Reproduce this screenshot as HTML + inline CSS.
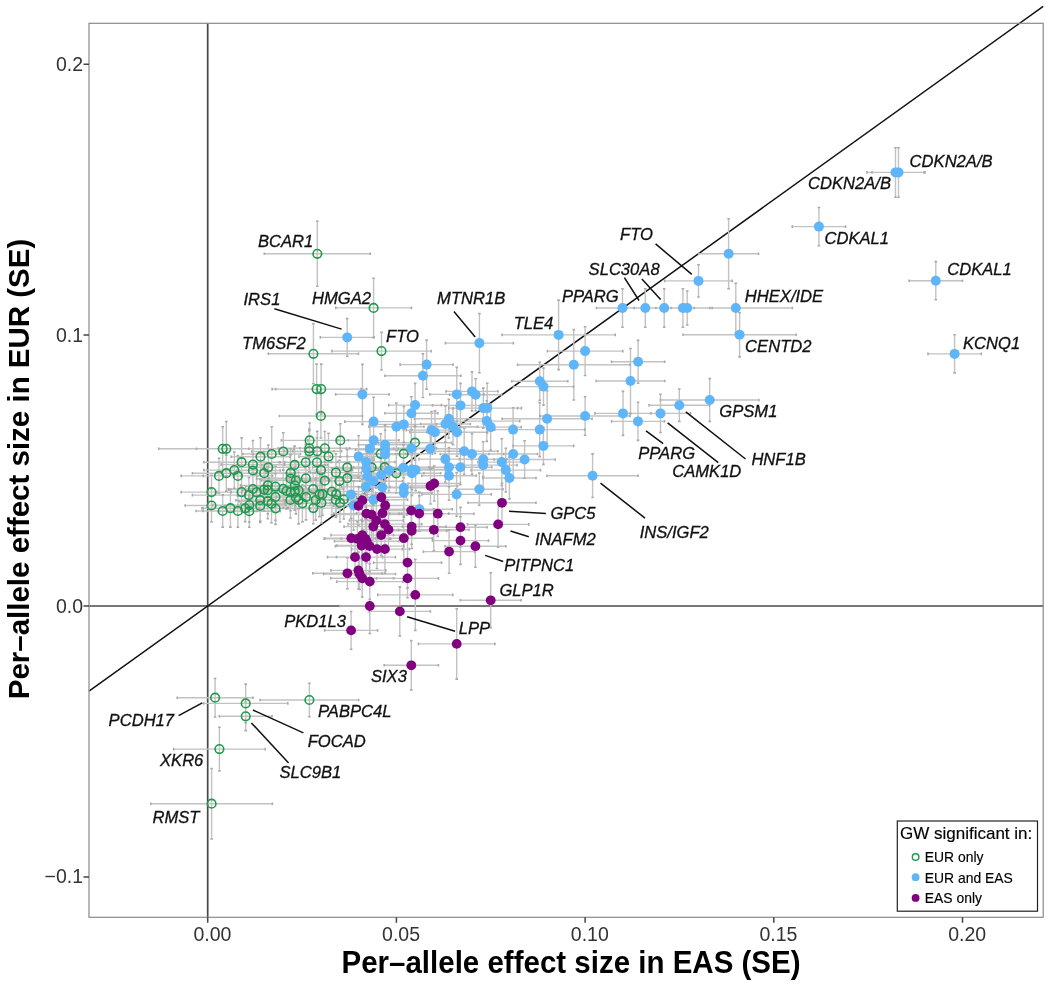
<!DOCTYPE html>
<html><head><meta charset="utf-8"><title>Per-allele effect size EUR vs EAS</title>
<style>html,body{margin:0;padding:0;background:#fff;width:1050px;height:984px;overflow:hidden}svg{display:block}</style>
</head><body>
<svg width="1050" height="984" viewBox="0 0 1050 984">
<rect width="1050" height="984" fill="#fff"/>
<defs><clipPath id="pc"><rect x="89.0" y="23.3" width="954.2" height="894.0"/></clipPath></defs>
<g stroke="#484848" stroke-width="1.7">
<line x1="207.7" y1="23.3" x2="207.7" y2="917.3"/>
<line x1="89.0" y1="606.0" x2="1043.2" y2="606.0"/>
</g>
<line x1="89.0" y1="691.2" x2="1043.2" y2="6.3" stroke="#111" stroke-width="1.5"/>
<path d="M264.3 253.8H370.3M317.3 221.3V286.3M335.8 307.9H411.4M373.6 278.2V337.6M268.3 353.8H358.5M313.4 323.8V383.8M331.9 351.1H431.1M381.5 332.2V370.0M272.1 389.1H361.1M316.6 364.1V414.1M275.7 389.1H366.7M321.2 364.1V414.1M279.4 416.0H362.4M320.9 394.0V438.0M281.4 440.4H337.8M309.6 423.0V457.8M307.8 440.4H372.8M340.3 423.7V457.1M278.3 448.3H340.3M309.3 429.0V467.6M284.5 451.3H334.1M309.3 430.7V471.9M292.7 451.3H341.7M317.2 431.4V471.2M299.9 448.3H349.7M324.8 431.5V465.1M299.0 456.6H358.0M328.5 433.2V480.0M280.1 462.3H331.3M305.7 444.3V480.3M284.7 462.3H349.1M316.9 437.8V486.8M289.5 470.1H352.5M321.0 450.5V489.7M269.1 478.3H342.5M305.8 461.9V494.7M289.6 480.7H360.0M324.8 462.1V499.3M310.4 472.6H361.4M335.9 453.8V491.4M312.6 467.4H381.8M347.2 449.8V485.0M315.6 478.2H378.8M347.2 456.4V500.0M310.7 481.1H368.3M339.5 460.2V502.0M261.7 491.0H311.3M286.5 473.1V508.9M260.9 492.0H320.1M290.5 473.2V510.8M264.9 491.4H324.7M294.8 472.7V510.1M265.5 490.5H331.7M298.6 472.3V508.7M267.8 500.0H329.4M298.6 476.1V523.9M274.7 503.3H330.1M302.4 484.7V521.9M276.6 497.1H335.4M306.0 474.3V519.9M282.7 489.0H343.5M313.1 472.6V505.4M288.6 494.2H356.4M322.5 473.0V515.4M291.4 494.3H347.6M319.5 472.0V516.6M284.2 500.0H347.2M315.7 479.9V520.1M285.1 502.9H357.7M321.4 482.6V523.2M288.5 508.1H338.1M313.3 492.4V523.8M295.0 491.5H368.8M331.9 468.1V514.9M307.2 494.2H365.2M336.2 472.2V516.2M305.7 500.0H365.7M335.7 482.5V517.5M315.2 502.9H364.8M340.0 483.8V522.0M316.6 499.5H371.0M343.8 480.0V519.0M355.7 453.8H405.7M380.7 433.8V473.8M353.6 467.2H415.8M384.7 443.2V491.2M336.9 467.4H406.3M371.6 443.6V491.2M368.7 473.3H423.9M396.3 453.6V493.0M375.0 453.7H432.4M403.7 429.7V477.7M378.5 442.7H451.5M415.0 425.3V460.1M196.5 448.8H248.9M222.7 426.8V470.8M158.7 448.8H293.9M226.3 421.5V476.1M181.1 475.9H256.9M219.0 458.3V493.5M192.4 473.2H260.2M226.3 455.1V491.3M203.9 470.1H264.7M234.3 452.0V488.2M203.3 475.9H272.5M237.9 455.5V496.3M203.9 462.2H279.3M241.6 437.9V486.5M221.2 464.6H284.6M252.9 440.6V488.6M225.5 470.5H280.3M252.9 454.5V486.5M231.1 456.7H289.9M260.5 437.9V475.5M242.9 454.0H300.5M271.7 426.8V481.2M251.9 451.5H314.7M283.3 432.7V470.3M231.9 467.3H304.7M268.3 445.1V489.5M233.4 473.2H294.8M264.1 451.6V494.8M261.8 464.9H327.4M294.6 446.1V483.7M265.9 472.9H315.3M290.6 448.8V497.0M256.5 478.7H324.7M290.6 454.8V502.6M261.5 480.5H330.3M295.9 461.0V500.0M181.1 492.1H241.9M211.5 475.2V509.0M185.1 505.5H237.9M211.5 489.0V522.0M216.8 492.1H266.4M241.6 475.5V508.7M192.4 495.1H305.4M248.9 477.6V512.6M228.2 489.0H277.6M252.9 473.0V505.0M231.3 492.1H281.9M256.6 472.8V511.4M228.7 489.6H299.5M264.1 468.1V511.1M240.5 485.4H295.1M267.8 466.3V504.5M242.2 490.2H293.4M267.8 466.6V513.8M245.4 486.6H305.6M275.5 466.2V507.0M257.9 488.8H308.5M283.2 469.7V507.9M196.0 511.0H249.4M222.7 494.9V527.1M201.9 508.2H258.9M230.4 489.3V527.1M203.1 511.0H272.7M237.9 494.9V527.1M203.2 508.3H287.2M245.2 495.0V521.6M212.9 505.1H285.7M249.3 488.2V522.0M218.2 511.2H280.4M249.3 495.2V527.2M235.8 500.2H284.6M260.2 479.4V521.0M225.0 505.9H295.4M260.2 489.4V522.4M239.0 501.2H296.6M267.8 483.7V518.7M240.6 503.7H302.4M271.5 484.7V522.7M248.6 497.0H302.4M275.5 473.7V520.3M240.5 508.5H310.7M275.6 492.6V524.4M256.8 500.0H324.0M290.4 482.0V518.0M267.3 497.6H324.5M295.9 481.3V513.9M267.2 485.5H322.4M294.8 467.2V503.8M177.2 697.7H253.0M215.1 678.5V717.0M203.6 703.4H287.8M245.7 684.1V722.7M219.3 716.3H272.1M245.7 702.0V730.6M260.1 700.0H358.7M309.4 683.3V716.7M173.7 749.1H265.1M219.4 727.2V771.0M150.8 803.7H272.4M211.6 768.5V839.0M866.9 172.4H924.1M895.5 147.7V197.2M872.0 172.4H925.0M898.5 147.7V197.2M792.2 226.6H845.6M818.9 207.5V245.7M909.1 280.7H962.5M935.8 261.6V299.8M928.0 353.9H981.2M954.6 334.8V372.9M698.7 253.8H758.5M728.6 218.8V288.8M664.7 280.9H732.3M698.5 264.8V297.0M596.5 308.0H648.5M622.5 288.8V327.2M619.3 308.0H671.3M645.3 288.8V327.2M634.2 308.0H694.2M664.2 288.8V327.2M655.9 308.0H709.9M682.9 288.8V327.2M662.2 308.0H712.2M687.2 291.0V325.0M679.2 308.0H792.4M735.8 283.2V332.8M683.1 334.8H796.1M739.6 312.7V356.9M611.5 361.8H664.7M638.1 340.4V383.2M596.2 381.0H664.8M630.5 348.5V413.5M660.5 400.0H758.9M709.7 378.6V421.4M649.1 405.2H709.5M679.3 389.0V421.4M630.5 413.4H690.5M660.5 394.2V432.5M595.0 413.4H651.0M623.0 391.4V435.4M611.6 421.4H664.4M638.0 402.3V440.4M540.1 416.0H630.1M585.1 396.7V435.3M547.1 475.7H638.1M592.6 453.9V497.5M445.4 343.1H513.4M479.4 313.6V372.7M502.0 334.9H615.2M558.6 300.1V369.6M547.4 351.1H622.8M585.1 326.7V375.5M517.6 364.8H630.0M573.8 329.6V400.0M511.8 381.2H567.8M539.8 362.2V400.2M513.5 386.6H573.5M543.5 368.1V405.1M400.1 364.6H453.1M426.6 340.1V389.1M384.9 375.7H460.9M422.9 353.9V397.5M429.8 394.4H483.8M456.8 367.4V421.4M446.0 391.4H498.0M472.0 371.9V410.9M449.6 394.8H501.6M475.6 378.8V410.8M432.5 405.4H488.5M460.5 383.4V427.4M448.9 408.1H517.7M483.3 388.1V428.1M453.0 408.1H521.4M487.2 383.2V433.0M414.4 418.7H483.2M448.8 399.4V438.0M420.6 424.0H470.4M445.5 406.0V442.0M428.4 426.8H477.6M453.0 409.0V444.6M426.9 432.2H487.1M457.0 408.1V456.3M453.9 421.1H519.7M486.8 400.8V441.4M460.2 427.1H521.2M490.7 403.9V450.3M490.0 429.6H536.2M513.1 407.7V451.5M494.7 429.6H584.7M539.7 402.6V456.6M502.1 418.7H592.1M547.1 390.7V446.7M513.1 445.9H573.7M543.4 427.4V464.4M430.4 451.3H498.0M464.2 428.3V474.3M440.2 454.0H503.8M472.0 433.7V474.3M488.9 454.0H537.5M513.2 430.9V477.1M494.0 459.5H555.2M524.6 440.7V478.3M419.0 459.1H471.6M445.3 435.9V482.3M414.4 467.2H483.6M449.0 447.6V486.8M421.8 475.8H476.2M449.0 451.3V500.3M429.0 467.3H491.8M460.4 449.8V484.8M459.5 459.2H506.9M483.2 441.8V476.6M449.4 465.1H517.0M483.2 441.8V488.4M477.9 462.1H525.7M501.8 438.7V485.5M471.1 470.1H540.5M505.8 448.2V492.0M482.8 478.0H536.0M509.4 457.1V498.9M455.6 489.2H503.0M479.3 473.1V505.3M422.0 494.4H491.2M456.6 472.6V516.2M344.8 421.6H402.4M373.6 397.2V446.0M388.8 405.1H441.4M415.1 383.4V426.8M384.9 413.2H437.9M411.4 396.7V429.7M368.8 426.8H424.0M396.4 403.0V450.6M371.1 424.4H436.5M403.8 406.5V442.3M406.2 430.1H456.8M431.5 411.5V448.7M409.9 432.2H460.1M435.0 410.9V453.5M348.2 440.3H399.0M373.6 420.5V460.1M346.3 448.8H393.7M370.0 424.6V473.0M358.5 444.8H411.7M385.1 424.7V464.9M355.5 449.8H414.7M385.1 425.7V473.9M357.6 454.5H412.6M385.1 430.2V478.8M330.1 456.6H387.1M358.6 435.8V477.4M337.4 462.0H395.0M366.2 445.8V478.2M338.5 468.6H393.9M366.2 451.0V486.2M345.3 476.5H389.5M367.4 453.3V499.7M341.6 486.8H390.0M365.8 466.5V507.1M349.8 475.0H412.6M381.2 454.0V496.0M362.8 470.3H415.2M389.0 449.6V491.0M344.1 481.2H402.5M373.3 458.1V504.3M358.9 487.3H405.7M382.3 466.3V508.3M386.1 448.2H436.5M411.3 429.7V466.7M398.2 448.8H462.2M430.2 428.2V469.4M374.1 467.7H432.7M403.4 444.9V490.5M378.1 469.5H445.9M412.0 449.5V489.5M385.6 470.1H445.6M415.6 449.6V490.6M383.3 473.2H440.7M412.0 451.0V495.4M375.9 487.8H431.7M403.8 467.0V508.6M375.6 492.7H432.0M403.8 468.2V517.2M320.0 494.5H382.2M351.1 470.6V518.4M339.2 499.8H407.6M373.4 481.5V518.1M324.3 505.5H382.9M353.6 481.0V530.0M386.5 509.3H452.3M419.4 492.1V526.5M335.7 394.4H389.1M362.4 364.4V424.4M320.3 337.4H374.1M347.2 318.6V356.2M336.7 500.4H387.9M362.3 479.4V521.4M333.6 505.8H383.4M358.5 486.6V525.0M356.3 497.2H406.3M381.3 474.2V520.2M351.0 505.5H419.4M385.2 480.4V530.6M356.4 513.2H408.4M382.4 489.8V536.6M333.8 513.6H399.0M366.4 495.3V531.9M336.1 514.6H407.1M371.6 488.9V540.3M349.4 520.5H403.2M376.3 494.9V546.1M344.1 526.6H402.5M373.3 505.2V548.0M348.0 524.1H421.8M384.9 499.6V548.6M362.4 529.6H414.6M388.5 508.7V550.5M350.5 535.1H411.9M381.2 515.0V555.2M324.8 538.2H377.8M351.3 518.3V558.1M324.0 538.8H390.8M357.4 521.6V556.0M331.1 535.1H393.5M362.3 514.1V556.1M341.2 538.8H389.6M365.4 518.8V558.8M334.5 541.2H398.7M366.6 519.6V562.8M336.9 545.5H386.5M361.7 519.6V571.4M335.4 546.1H403.8M369.6 520.4V571.8M351.6 549.1H402.4M377.0 529.7V568.5M360.4 549.1H409.4M384.9 525.1V573.1M327.5 557.1H382.5M355.0 538.9V575.3M336.5 557.1H395.5M366.0 531.9V582.3M312.8 573.3H382.0M347.4 557.8V588.8M331.0 570.4H385.8M358.4 552.1V588.7M323.7 574.0H395.5M359.6 558.5V589.5M330.8 578.3H393.6M362.2 559.7V596.9M336.7 581.6H402.9M369.8 563.8V599.4M339.8 606.0H399.8M369.8 578.5V633.5M369.2 611.4H430.4M399.8 586.9V635.9M386.5 510.6H435.9M411.2 487.4V533.8M389.7 513.6H448.7M419.2 495.9V531.3M401.6 513.7H474.0M437.8 491.0V536.4M377.3 526.6H446.1M411.7 508.8V544.4M376.6 530.9H446.8M411.7 513.3V548.5M398.6 529.8H469.0M433.8 508.7V550.9M375.4 538.2H432.2M403.8 516.2V560.2M373.5 562.6H441.5M407.5 537.3V587.9M376.5 578.4H438.5M407.5 559.0V597.8M377.8 594.9H452.8M415.3 559.4V630.4M423.4 551.6H474.8M449.1 529.9V573.3M403.4 486.0H457.6M430.5 468.0V504.0M408.1 483.5H460.3M434.2 466.0V501.0M433.9 527.2H487.1M460.5 507.4V547.0M432.5 540.6H488.5M460.5 516.8V564.4M468.0 502.8H536.0M502.0 483.2V522.4M467.5 524.4H528.8M498.1 501.5V547.3M444.9 546.2H505.9M475.4 525.2V567.2M460.3 600.3H521.0M490.7 572.8V627.8M324.6 630.4H377.6M351.1 611.5V649.2M418.4 643.9H494.9M456.7 608.7V679.1M384.2 665.3H438.4M411.3 640.6V689.9" fill="none" stroke="#c2c2c2" stroke-width="1.4"/>
<path d="M264.3 252.5V255.1M370.3 252.5V255.1M316.0 221.3H318.6M316.0 286.3H318.6M335.8 306.6V309.2M411.4 306.6V309.2M372.3 278.2H374.9M372.3 337.6H374.9M268.3 352.5V355.1M358.5 352.5V355.1M312.1 323.8H314.7M312.1 383.8H314.7M331.9 349.8V352.4M431.1 349.8V352.4M380.2 332.2H382.8M380.2 370.0H382.8M272.1 387.8V390.4M361.1 387.8V390.4M315.3 364.1H317.9M315.3 414.1H317.9M275.7 387.8V390.4M366.7 387.8V390.4M319.9 364.1H322.5M319.9 414.1H322.5M279.4 414.7V417.3M362.4 414.7V417.3M319.6 394.0H322.2M319.6 438.0H322.2M281.4 439.1V441.7M337.8 439.1V441.7M308.3 423.0H310.9M308.3 457.8H310.9M307.8 439.1V441.7M372.8 439.1V441.7M339.0 423.7H341.6M339.0 457.1H341.6M278.3 447.0V449.6M340.3 447.0V449.6M308.0 429.0H310.6M308.0 467.6H310.6M284.5 450.0V452.6M334.1 450.0V452.6M308.0 430.7H310.6M308.0 471.9H310.6M292.7 450.0V452.6M341.7 450.0V452.6M315.9 431.4H318.5M315.9 471.2H318.5M299.9 447.0V449.6M349.7 447.0V449.6M323.5 431.5H326.1M323.5 465.1H326.1M299.0 455.3V457.9M358.0 455.3V457.9M327.2 433.2H329.8M327.2 480.0H329.8M280.1 461.0V463.6M331.3 461.0V463.6M304.4 444.3H307.0M304.4 480.3H307.0M284.7 461.0V463.6M349.1 461.0V463.6M315.6 437.8H318.2M315.6 486.8H318.2M289.5 468.8V471.4M352.5 468.8V471.4M319.7 450.5H322.3M319.7 489.7H322.3M269.1 477.0V479.6M342.5 477.0V479.6M304.5 461.9H307.1M304.5 494.7H307.1M289.6 479.4V482.0M360.0 479.4V482.0M323.5 462.1H326.1M323.5 499.3H326.1M310.4 471.3V473.9M361.4 471.3V473.9M334.6 453.8H337.2M334.6 491.4H337.2M312.6 466.1V468.7M381.8 466.1V468.7M345.9 449.8H348.5M345.9 485.0H348.5M315.6 476.9V479.5M378.8 476.9V479.5M345.9 456.4H348.5M345.9 500.0H348.5M310.7 479.8V482.4M368.3 479.8V482.4M338.2 460.2H340.8M338.2 502.0H340.8M261.7 489.7V492.3M311.3 489.7V492.3M285.2 473.1H287.8M285.2 508.9H287.8M260.9 490.7V493.3M320.1 490.7V493.3M289.2 473.2H291.8M289.2 510.8H291.8M264.9 490.1V492.7M324.7 490.1V492.7M293.5 472.7H296.1M293.5 510.1H296.1M265.5 489.2V491.8M331.7 489.2V491.8M297.3 472.3H299.9M297.3 508.7H299.9M267.8 498.7V501.3M329.4 498.7V501.3M297.3 476.1H299.9M297.3 523.9H299.9M274.7 502.0V504.6M330.1 502.0V504.6M301.1 484.7H303.7M301.1 521.9H303.7M276.6 495.8V498.4M335.4 495.8V498.4M304.7 474.3H307.3M304.7 519.9H307.3M282.7 487.7V490.3M343.5 487.7V490.3M311.8 472.6H314.4M311.8 505.4H314.4M288.6 492.9V495.5M356.4 492.9V495.5M321.2 473.0H323.8M321.2 515.4H323.8M291.4 493.0V495.6M347.6 493.0V495.6M318.2 472.0H320.8M318.2 516.6H320.8M284.2 498.7V501.3M347.2 498.7V501.3M314.4 479.9H317.0M314.4 520.1H317.0M285.1 501.6V504.2M357.7 501.6V504.2M320.1 482.6H322.7M320.1 523.2H322.7M288.5 506.8V509.4M338.1 506.8V509.4M312.0 492.4H314.6M312.0 523.8H314.6M295.0 490.2V492.8M368.8 490.2V492.8M330.6 468.1H333.2M330.6 514.9H333.2M307.2 492.9V495.5M365.2 492.9V495.5M334.9 472.2H337.5M334.9 516.2H337.5M305.7 498.7V501.3M365.7 498.7V501.3M334.4 482.5H337.0M334.4 517.5H337.0M315.2 501.6V504.2M364.8 501.6V504.2M338.7 483.8H341.3M338.7 522.0H341.3M316.6 498.2V500.8M371.0 498.2V500.8M342.5 480.0H345.1M342.5 519.0H345.1M355.7 452.5V455.1M405.7 452.5V455.1M379.4 433.8H382.0M379.4 473.8H382.0M353.6 465.9V468.5M415.8 465.9V468.5M383.4 443.2H386.0M383.4 491.2H386.0M336.9 466.1V468.7M406.3 466.1V468.7M370.3 443.6H372.9M370.3 491.2H372.9M368.7 472.0V474.6M423.9 472.0V474.6M395.0 453.6H397.6M395.0 493.0H397.6M375.0 452.4V455.0M432.4 452.4V455.0M402.4 429.7H405.0M402.4 477.7H405.0M378.5 441.4V444.0M451.5 441.4V444.0M413.7 425.3H416.3M413.7 460.1H416.3M196.5 447.5V450.1M248.9 447.5V450.1M221.4 426.8H224.0M221.4 470.8H224.0M158.7 447.5V450.1M293.9 447.5V450.1M225.0 421.5H227.6M225.0 476.1H227.6M181.1 474.6V477.2M256.9 474.6V477.2M217.7 458.3H220.3M217.7 493.5H220.3M192.4 471.9V474.5M260.2 471.9V474.5M225.0 455.1H227.6M225.0 491.3H227.6M203.9 468.8V471.4M264.7 468.8V471.4M233.0 452.0H235.6M233.0 488.2H235.6M203.3 474.6V477.2M272.5 474.6V477.2M236.6 455.5H239.2M236.6 496.3H239.2M203.9 460.9V463.5M279.3 460.9V463.5M240.3 437.9H242.9M240.3 486.5H242.9M221.2 463.3V465.9M284.6 463.3V465.9M251.6 440.6H254.2M251.6 488.6H254.2M225.5 469.2V471.8M280.3 469.2V471.8M251.6 454.5H254.2M251.6 486.5H254.2M231.1 455.4V458.0M289.9 455.4V458.0M259.2 437.9H261.8M259.2 475.5H261.8M242.9 452.7V455.3M300.5 452.7V455.3M270.4 426.8H273.0M270.4 481.2H273.0M251.9 450.2V452.8M314.7 450.2V452.8M282.0 432.7H284.6M282.0 470.3H284.6M231.9 466.0V468.6M304.7 466.0V468.6M267.0 445.1H269.6M267.0 489.5H269.6M233.4 471.9V474.5M294.8 471.9V474.5M262.8 451.6H265.4M262.8 494.8H265.4M261.8 463.6V466.2M327.4 463.6V466.2M293.3 446.1H295.9M293.3 483.7H295.9M265.9 471.6V474.2M315.3 471.6V474.2M289.3 448.8H291.9M289.3 497.0H291.9M256.5 477.4V480.0M324.7 477.4V480.0M289.3 454.8H291.9M289.3 502.6H291.9M261.5 479.2V481.8M330.3 479.2V481.8M294.6 461.0H297.2M294.6 500.0H297.2M181.1 490.8V493.4M241.9 490.8V493.4M210.2 475.2H212.8M210.2 509.0H212.8M185.1 504.2V506.8M237.9 504.2V506.8M210.2 489.0H212.8M210.2 522.0H212.8M216.8 490.8V493.4M266.4 490.8V493.4M240.3 475.5H242.9M240.3 508.7H242.9M192.4 493.8V496.4M305.4 493.8V496.4M247.6 477.6H250.2M247.6 512.6H250.2M228.2 487.7V490.3M277.6 487.7V490.3M251.6 473.0H254.2M251.6 505.0H254.2M231.3 490.8V493.4M281.9 490.8V493.4M255.3 472.8H257.9M255.3 511.4H257.9M228.7 488.3V490.9M299.5 488.3V490.9M262.8 468.1H265.4M262.8 511.1H265.4M240.5 484.1V486.7M295.1 484.1V486.7M266.5 466.3H269.1M266.5 504.5H269.1M242.2 488.9V491.5M293.4 488.9V491.5M266.5 466.6H269.1M266.5 513.8H269.1M245.4 485.3V487.9M305.6 485.3V487.9M274.2 466.2H276.8M274.2 507.0H276.8M257.9 487.5V490.1M308.5 487.5V490.1M281.9 469.7H284.5M281.9 507.9H284.5M196.0 509.7V512.3M249.4 509.7V512.3M221.4 494.9H224.0M221.4 527.1H224.0M201.9 506.9V509.5M258.9 506.9V509.5M229.1 489.3H231.7M229.1 527.1H231.7M203.1 509.7V512.3M272.7 509.7V512.3M236.6 494.9H239.2M236.6 527.1H239.2M203.2 507.0V509.6M287.2 507.0V509.6M243.9 495.0H246.5M243.9 521.6H246.5M212.9 503.8V506.4M285.7 503.8V506.4M248.0 488.2H250.6M248.0 522.0H250.6M218.2 509.9V512.5M280.4 509.9V512.5M248.0 495.2H250.6M248.0 527.2H250.6M235.8 498.9V501.5M284.6 498.9V501.5M258.9 479.4H261.5M258.9 521.0H261.5M225.0 504.6V507.2M295.4 504.6V507.2M258.9 489.4H261.5M258.9 522.4H261.5M239.0 499.9V502.5M296.6 499.9V502.5M266.5 483.7H269.1M266.5 518.7H269.1M240.6 502.4V505.0M302.4 502.4V505.0M270.2 484.7H272.8M270.2 522.7H272.8M248.6 495.7V498.3M302.4 495.7V498.3M274.2 473.7H276.8M274.2 520.3H276.8M240.5 507.2V509.8M310.7 507.2V509.8M274.3 492.6H276.9M274.3 524.4H276.9M256.8 498.7V501.3M324.0 498.7V501.3M289.1 482.0H291.7M289.1 518.0H291.7M267.3 496.3V498.9M324.5 496.3V498.9M294.6 481.3H297.2M294.6 513.9H297.2M267.2 484.2V486.8M322.4 484.2V486.8M293.5 467.2H296.1M293.5 503.8H296.1M177.2 696.4V699.0M253.0 696.4V699.0M213.8 678.5H216.4M213.8 717.0H216.4M203.6 702.1V704.7M287.8 702.1V704.7M244.4 684.1H247.0M244.4 722.7H247.0M219.3 715.0V717.6M272.1 715.0V717.6M244.4 702.0H247.0M244.4 730.6H247.0M260.1 698.7V701.3M358.7 698.7V701.3M308.1 683.3H310.7M308.1 716.7H310.7M173.7 747.8V750.4M265.1 747.8V750.4M218.1 727.2H220.7M218.1 771.0H220.7M150.8 802.4V805.0M272.4 802.4V805.0M210.3 768.5H212.9M210.3 839.0H212.9M866.9 171.1V173.7M924.1 171.1V173.7M894.2 147.7H896.8M894.2 197.2H896.8M872.0 171.1V173.7M925.0 171.1V173.7M897.2 147.7H899.8M897.2 197.2H899.8M792.2 225.3V227.9M845.6 225.3V227.9M817.6 207.5H820.2M817.6 245.7H820.2M909.1 279.4V282.0M962.5 279.4V282.0M934.5 261.6H937.1M934.5 299.8H937.1M928.0 352.6V355.2M981.2 352.6V355.2M953.3 334.8H955.9M953.3 372.9H955.9M698.7 252.5V255.1M758.5 252.5V255.1M727.3 218.8H729.9M727.3 288.8H729.9M664.7 279.6V282.2M732.3 279.6V282.2M697.2 264.8H699.8M697.2 297.0H699.8M596.5 306.7V309.3M648.5 306.7V309.3M621.2 288.8H623.8M621.2 327.2H623.8M619.3 306.7V309.3M671.3 306.7V309.3M644.0 288.8H646.6M644.0 327.2H646.6M634.2 306.7V309.3M694.2 306.7V309.3M662.9 288.8H665.5M662.9 327.2H665.5M655.9 306.7V309.3M709.9 306.7V309.3M681.6 288.8H684.2M681.6 327.2H684.2M662.2 306.7V309.3M712.2 306.7V309.3M685.9 291.0H688.5M685.9 325.0H688.5M679.2 306.7V309.3M792.4 306.7V309.3M734.5 283.2H737.1M734.5 332.8H737.1M683.1 333.5V336.1M796.1 333.5V336.1M738.3 312.7H740.9M738.3 356.9H740.9M611.5 360.5V363.1M664.7 360.5V363.1M636.8 340.4H639.4M636.8 383.2H639.4M596.2 379.7V382.3M664.8 379.7V382.3M629.2 348.5H631.8M629.2 413.5H631.8M660.5 398.7V401.3M758.9 398.7V401.3M708.4 378.6H711.0M708.4 421.4H711.0M649.1 403.9V406.5M709.5 403.9V406.5M678.0 389.0H680.6M678.0 421.4H680.6M630.5 412.1V414.7M690.5 412.1V414.7M659.2 394.2H661.8M659.2 432.5H661.8M595.0 412.1V414.7M651.0 412.1V414.7M621.7 391.4H624.3M621.7 435.4H624.3M611.6 420.1V422.7M664.4 420.1V422.7M636.7 402.3H639.3M636.7 440.4H639.3M540.1 414.7V417.3M630.1 414.7V417.3M583.8 396.7H586.4M583.8 435.3H586.4M547.1 474.4V477.0M638.1 474.4V477.0M591.3 453.9H593.9M591.3 497.5H593.9M445.4 341.8V344.4M513.4 341.8V344.4M478.1 313.6H480.7M478.1 372.7H480.7M502.0 333.6V336.2M615.2 333.6V336.2M557.3 300.1H559.9M557.3 369.6H559.9M547.4 349.8V352.4M622.8 349.8V352.4M583.8 326.7H586.4M583.8 375.5H586.4M517.6 363.5V366.1M630.0 363.5V366.1M572.5 329.6H575.1M572.5 400.0H575.1M511.8 379.9V382.5M567.8 379.9V382.5M538.5 362.2H541.1M538.5 400.2H541.1M513.5 385.3V387.9M573.5 385.3V387.9M542.2 368.1H544.8M542.2 405.1H544.8M400.1 363.3V365.9M453.1 363.3V365.9M425.3 340.1H427.9M425.3 389.1H427.9M384.9 374.4V377.0M460.9 374.4V377.0M421.6 353.9H424.2M421.6 397.5H424.2M429.8 393.1V395.7M483.8 393.1V395.7M455.5 367.4H458.1M455.5 421.4H458.1M446.0 390.1V392.7M498.0 390.1V392.7M470.7 371.9H473.3M470.7 410.9H473.3M449.6 393.5V396.1M501.6 393.5V396.1M474.3 378.8H476.9M474.3 410.8H476.9M432.5 404.1V406.7M488.5 404.1V406.7M459.2 383.4H461.8M459.2 427.4H461.8M448.9 406.8V409.4M517.7 406.8V409.4M482.0 388.1H484.6M482.0 428.1H484.6M453.0 406.8V409.4M521.4 406.8V409.4M485.9 383.2H488.5M485.9 433.0H488.5M414.4 417.4V420.0M483.2 417.4V420.0M447.5 399.4H450.1M447.5 438.0H450.1M420.6 422.7V425.3M470.4 422.7V425.3M444.2 406.0H446.8M444.2 442.0H446.8M428.4 425.5V428.1M477.6 425.5V428.1M451.7 409.0H454.3M451.7 444.6H454.3M426.9 430.9V433.5M487.1 430.9V433.5M455.7 408.1H458.3M455.7 456.3H458.3M453.9 419.8V422.4M519.7 419.8V422.4M485.5 400.8H488.1M485.5 441.4H488.1M460.2 425.8V428.4M521.2 425.8V428.4M489.4 403.9H492.0M489.4 450.3H492.0M490.0 428.3V430.9M536.2 428.3V430.9M511.8 407.7H514.4M511.8 451.5H514.4M494.7 428.3V430.9M584.7 428.3V430.9M538.4 402.6H541.0M538.4 456.6H541.0M502.1 417.4V420.0M592.1 417.4V420.0M545.8 390.7H548.4M545.8 446.7H548.4M513.1 444.6V447.2M573.7 444.6V447.2M542.1 427.4H544.7M542.1 464.4H544.7M430.4 450.0V452.6M498.0 450.0V452.6M462.9 428.3H465.5M462.9 474.3H465.5M440.2 452.7V455.3M503.8 452.7V455.3M470.7 433.7H473.3M470.7 474.3H473.3M488.9 452.7V455.3M537.5 452.7V455.3M511.9 430.9H514.5M511.9 477.1H514.5M494.0 458.2V460.8M555.2 458.2V460.8M523.3 440.7H525.9M523.3 478.3H525.9M419.0 457.8V460.4M471.6 457.8V460.4M444.0 435.9H446.6M444.0 482.3H446.6M414.4 465.9V468.5M483.6 465.9V468.5M447.7 447.6H450.3M447.7 486.8H450.3M421.8 474.5V477.1M476.2 474.5V477.1M447.7 451.3H450.3M447.7 500.3H450.3M429.0 466.0V468.6M491.8 466.0V468.6M459.1 449.8H461.7M459.1 484.8H461.7M459.5 457.9V460.5M506.9 457.9V460.5M481.9 441.8H484.5M481.9 476.6H484.5M449.4 463.8V466.4M517.0 463.8V466.4M481.9 441.8H484.5M481.9 488.4H484.5M477.9 460.8V463.4M525.7 460.8V463.4M500.5 438.7H503.1M500.5 485.5H503.1M471.1 468.8V471.4M540.5 468.8V471.4M504.5 448.2H507.1M504.5 492.0H507.1M482.8 476.7V479.3M536.0 476.7V479.3M508.1 457.1H510.7M508.1 498.9H510.7M455.6 487.9V490.5M503.0 487.9V490.5M478.0 473.1H480.6M478.0 505.3H480.6M422.0 493.1V495.7M491.2 493.1V495.7M455.3 472.6H457.9M455.3 516.2H457.9M344.8 420.3V422.9M402.4 420.3V422.9M372.3 397.2H374.9M372.3 446.0H374.9M388.8 403.8V406.4M441.4 403.8V406.4M413.8 383.4H416.4M413.8 426.8H416.4M384.9 411.9V414.5M437.9 411.9V414.5M410.1 396.7H412.7M410.1 429.7H412.7M368.8 425.5V428.1M424.0 425.5V428.1M395.1 403.0H397.7M395.1 450.6H397.7M371.1 423.1V425.7M436.5 423.1V425.7M402.5 406.5H405.1M402.5 442.3H405.1M406.2 428.8V431.4M456.8 428.8V431.4M430.2 411.5H432.8M430.2 448.7H432.8M409.9 430.9V433.5M460.1 430.9V433.5M433.7 410.9H436.3M433.7 453.5H436.3M348.2 439.0V441.6M399.0 439.0V441.6M372.3 420.5H374.9M372.3 460.1H374.9M346.3 447.5V450.1M393.7 447.5V450.1M368.7 424.6H371.3M368.7 473.0H371.3M358.5 443.5V446.1M411.7 443.5V446.1M383.8 424.7H386.4M383.8 464.9H386.4M355.5 448.5V451.1M414.7 448.5V451.1M383.8 425.7H386.4M383.8 473.9H386.4M357.6 453.2V455.8M412.6 453.2V455.8M383.8 430.2H386.4M383.8 478.8H386.4M330.1 455.3V457.9M387.1 455.3V457.9M357.3 435.8H359.9M357.3 477.4H359.9M337.4 460.7V463.3M395.0 460.7V463.3M364.9 445.8H367.5M364.9 478.2H367.5M338.5 467.3V469.9M393.9 467.3V469.9M364.9 451.0H367.5M364.9 486.2H367.5M345.3 475.2V477.8M389.5 475.2V477.8M366.1 453.3H368.7M366.1 499.7H368.7M341.6 485.5V488.1M390.0 485.5V488.1M364.5 466.5H367.1M364.5 507.1H367.1M349.8 473.7V476.3M412.6 473.7V476.3M379.9 454.0H382.5M379.9 496.0H382.5M362.8 469.0V471.6M415.2 469.0V471.6M387.7 449.6H390.3M387.7 491.0H390.3M344.1 479.9V482.5M402.5 479.9V482.5M372.0 458.1H374.6M372.0 504.3H374.6M358.9 486.0V488.6M405.7 486.0V488.6M381.0 466.3H383.6M381.0 508.3H383.6M386.1 446.9V449.5M436.5 446.9V449.5M410.0 429.7H412.6M410.0 466.7H412.6M398.2 447.5V450.1M462.2 447.5V450.1M428.9 428.2H431.5M428.9 469.4H431.5M374.1 466.4V469.0M432.7 466.4V469.0M402.1 444.9H404.7M402.1 490.5H404.7M378.1 468.2V470.8M445.9 468.2V470.8M410.7 449.5H413.3M410.7 489.5H413.3M385.6 468.8V471.4M445.6 468.8V471.4M414.3 449.6H416.9M414.3 490.6H416.9M383.3 471.9V474.5M440.7 471.9V474.5M410.7 451.0H413.3M410.7 495.4H413.3M375.9 486.5V489.1M431.7 486.5V489.1M402.5 467.0H405.1M402.5 508.6H405.1M375.6 491.4V494.0M432.0 491.4V494.0M402.5 468.2H405.1M402.5 517.2H405.1M320.0 493.2V495.8M382.2 493.2V495.8M349.8 470.6H352.4M349.8 518.4H352.4M339.2 498.5V501.1M407.6 498.5V501.1M372.1 481.5H374.7M372.1 518.1H374.7M324.3 504.2V506.8M382.9 504.2V506.8M352.3 481.0H354.9M352.3 530.0H354.9M386.5 508.0V510.6M452.3 508.0V510.6M418.1 492.1H420.7M418.1 526.5H420.7M335.7 393.1V395.7M389.1 393.1V395.7M361.1 364.4H363.7M361.1 424.4H363.7M320.3 336.1V338.7M374.1 336.1V338.7M345.9 318.6H348.5M345.9 356.2H348.5M336.7 499.1V501.7M387.9 499.1V501.7M361.0 479.4H363.6M361.0 521.4H363.6M333.6 504.5V507.1M383.4 504.5V507.1M357.2 486.6H359.8M357.2 525.0H359.8M356.3 495.9V498.5M406.3 495.9V498.5M380.0 474.2H382.6M380.0 520.2H382.6M351.0 504.2V506.8M419.4 504.2V506.8M383.9 480.4H386.5M383.9 530.6H386.5M356.4 511.9V514.5M408.4 511.9V514.5M381.1 489.8H383.7M381.1 536.6H383.7M333.8 512.3V514.9M399.0 512.3V514.9M365.1 495.3H367.7M365.1 531.9H367.7M336.1 513.3V515.9M407.1 513.3V515.9M370.3 488.9H372.9M370.3 540.3H372.9M349.4 519.2V521.8M403.2 519.2V521.8M375.0 494.9H377.6M375.0 546.1H377.6M344.1 525.3V527.9M402.5 525.3V527.9M372.0 505.2H374.6M372.0 548.0H374.6M348.0 522.8V525.4M421.8 522.8V525.4M383.6 499.6H386.2M383.6 548.6H386.2M362.4 528.3V530.9M414.6 528.3V530.9M387.2 508.7H389.8M387.2 550.5H389.8M350.5 533.8V536.4M411.9 533.8V536.4M379.9 515.0H382.5M379.9 555.2H382.5M324.8 536.9V539.5M377.8 536.9V539.5M350.0 518.3H352.6M350.0 558.1H352.6M324.0 537.5V540.1M390.8 537.5V540.1M356.1 521.6H358.7M356.1 556.0H358.7M331.1 533.8V536.4M393.5 533.8V536.4M361.0 514.1H363.6M361.0 556.1H363.6M341.2 537.5V540.1M389.6 537.5V540.1M364.1 518.8H366.7M364.1 558.8H366.7M334.5 539.9V542.5M398.7 539.9V542.5M365.3 519.6H367.9M365.3 562.8H367.9M336.9 544.2V546.8M386.5 544.2V546.8M360.4 519.6H363.0M360.4 571.4H363.0M335.4 544.8V547.4M403.8 544.8V547.4M368.3 520.4H370.9M368.3 571.8H370.9M351.6 547.8V550.4M402.4 547.8V550.4M375.7 529.7H378.3M375.7 568.5H378.3M360.4 547.8V550.4M409.4 547.8V550.4M383.6 525.1H386.2M383.6 573.1H386.2M327.5 555.8V558.4M382.5 555.8V558.4M353.7 538.9H356.3M353.7 575.3H356.3M336.5 555.8V558.4M395.5 555.8V558.4M364.7 531.9H367.3M364.7 582.3H367.3M312.8 572.0V574.6M382.0 572.0V574.6M346.1 557.8H348.7M346.1 588.8H348.7M331.0 569.1V571.7M385.8 569.1V571.7M357.1 552.1H359.7M357.1 588.7H359.7M323.7 572.7V575.3M395.5 572.7V575.3M358.3 558.5H360.9M358.3 589.5H360.9M330.8 577.0V579.6M393.6 577.0V579.6M360.9 559.7H363.5M360.9 596.9H363.5M336.7 580.3V582.9M402.9 580.3V582.9M368.5 563.8H371.1M368.5 599.4H371.1M339.8 604.7V607.3M399.8 604.7V607.3M368.5 578.5H371.1M368.5 633.5H371.1M369.2 610.1V612.7M430.4 610.1V612.7M398.5 586.9H401.1M398.5 635.9H401.1M386.5 509.3V511.9M435.9 509.3V511.9M409.9 487.4H412.5M409.9 533.8H412.5M389.7 512.3V514.9M448.7 512.3V514.9M417.9 495.9H420.5M417.9 531.3H420.5M401.6 512.4V515.0M474.0 512.4V515.0M436.5 491.0H439.1M436.5 536.4H439.1M377.3 525.3V527.9M446.1 525.3V527.9M410.4 508.8H413.0M410.4 544.4H413.0M376.6 529.6V532.2M446.8 529.6V532.2M410.4 513.3H413.0M410.4 548.5H413.0M398.6 528.5V531.1M469.0 528.5V531.1M432.5 508.7H435.1M432.5 550.9H435.1M375.4 536.9V539.5M432.2 536.9V539.5M402.5 516.2H405.1M402.5 560.2H405.1M373.5 561.3V563.9M441.5 561.3V563.9M406.2 537.3H408.8M406.2 587.9H408.8M376.5 577.1V579.7M438.5 577.1V579.7M406.2 559.0H408.8M406.2 597.8H408.8M377.8 593.6V596.2M452.8 593.6V596.2M414.0 559.4H416.6M414.0 630.4H416.6M423.4 550.3V552.9M474.8 550.3V552.9M447.8 529.9H450.4M447.8 573.3H450.4M403.4 484.7V487.3M457.6 484.7V487.3M429.2 468.0H431.8M429.2 504.0H431.8M408.1 482.2V484.8M460.3 482.2V484.8M432.9 466.0H435.5M432.9 501.0H435.5M433.9 525.9V528.5M487.1 525.9V528.5M459.2 507.4H461.8M459.2 547.0H461.8M432.5 539.3V541.9M488.5 539.3V541.9M459.2 516.8H461.8M459.2 564.4H461.8M468.0 501.5V504.1M536.0 501.5V504.1M500.7 483.2H503.3M500.7 522.4H503.3M467.5 523.1V525.7M528.8 523.1V525.7M496.8 501.5H499.4M496.8 547.3H499.4M444.9 544.9V547.5M505.9 544.9V547.5M474.1 525.2H476.7M474.1 567.2H476.7M460.3 599.0V601.6M521.0 599.0V601.6M489.4 572.8H492.0M489.4 627.8H492.0M324.6 629.1V631.7M377.6 629.1V631.7M349.8 611.5H352.4M349.8 649.2H352.4M418.4 642.6V645.2M494.9 642.6V645.2M455.4 608.7H458.0M455.4 679.1H458.0M384.2 664.0V666.6M438.4 664.0V666.6M410.0 640.6H412.6M410.0 689.9H412.6" fill="none" stroke="#aaaaaa" stroke-width="1.6"/>
<circle cx="317.3" cy="253.8" r="4.3" fill="none" stroke="#1f9a4b" stroke-width="1.6"/>
<circle cx="373.6" cy="307.9" r="4.3" fill="none" stroke="#1f9a4b" stroke-width="1.6"/>
<circle cx="313.4" cy="353.8" r="4.3" fill="none" stroke="#1f9a4b" stroke-width="1.6"/>
<circle cx="381.5" cy="351.1" r="4.3" fill="none" stroke="#1f9a4b" stroke-width="1.6"/>
<circle cx="316.6" cy="389.1" r="4.3" fill="none" stroke="#1f9a4b" stroke-width="1.6"/>
<circle cx="321.2" cy="389.1" r="4.3" fill="none" stroke="#1f9a4b" stroke-width="1.6"/>
<circle cx="320.9" cy="416.0" r="4.3" fill="none" stroke="#1f9a4b" stroke-width="1.6"/>
<circle cx="309.6" cy="440.4" r="4.3" fill="none" stroke="#1f9a4b" stroke-width="1.6"/>
<circle cx="340.3" cy="440.4" r="4.3" fill="none" stroke="#1f9a4b" stroke-width="1.6"/>
<circle cx="309.3" cy="448.3" r="4.3" fill="none" stroke="#1f9a4b" stroke-width="1.6"/>
<circle cx="309.3" cy="451.3" r="4.3" fill="none" stroke="#1f9a4b" stroke-width="1.6"/>
<circle cx="317.2" cy="451.3" r="4.3" fill="none" stroke="#1f9a4b" stroke-width="1.6"/>
<circle cx="324.8" cy="448.3" r="4.3" fill="none" stroke="#1f9a4b" stroke-width="1.6"/>
<circle cx="328.5" cy="456.6" r="4.3" fill="none" stroke="#1f9a4b" stroke-width="1.6"/>
<circle cx="305.7" cy="462.3" r="4.3" fill="none" stroke="#1f9a4b" stroke-width="1.6"/>
<circle cx="316.9" cy="462.3" r="4.3" fill="none" stroke="#1f9a4b" stroke-width="1.6"/>
<circle cx="321.0" cy="470.1" r="4.3" fill="none" stroke="#1f9a4b" stroke-width="1.6"/>
<circle cx="305.8" cy="478.3" r="4.3" fill="none" stroke="#1f9a4b" stroke-width="1.6"/>
<circle cx="324.8" cy="480.7" r="4.3" fill="none" stroke="#1f9a4b" stroke-width="1.6"/>
<circle cx="335.9" cy="472.6" r="4.3" fill="none" stroke="#1f9a4b" stroke-width="1.6"/>
<circle cx="347.2" cy="467.4" r="4.3" fill="none" stroke="#1f9a4b" stroke-width="1.6"/>
<circle cx="347.2" cy="478.2" r="4.3" fill="none" stroke="#1f9a4b" stroke-width="1.6"/>
<circle cx="339.5" cy="481.1" r="4.3" fill="none" stroke="#1f9a4b" stroke-width="1.6"/>
<circle cx="286.5" cy="491.0" r="4.3" fill="none" stroke="#1f9a4b" stroke-width="1.6"/>
<circle cx="290.5" cy="492.0" r="4.3" fill="none" stroke="#1f9a4b" stroke-width="1.6"/>
<circle cx="294.8" cy="491.4" r="4.3" fill="none" stroke="#1f9a4b" stroke-width="1.6"/>
<circle cx="298.6" cy="490.5" r="4.3" fill="none" stroke="#1f9a4b" stroke-width="1.6"/>
<circle cx="298.6" cy="500.0" r="4.3" fill="none" stroke="#1f9a4b" stroke-width="1.6"/>
<circle cx="302.4" cy="503.3" r="4.3" fill="none" stroke="#1f9a4b" stroke-width="1.6"/>
<circle cx="306.0" cy="497.1" r="4.3" fill="none" stroke="#1f9a4b" stroke-width="1.6"/>
<circle cx="313.1" cy="489.0" r="4.3" fill="none" stroke="#1f9a4b" stroke-width="1.6"/>
<circle cx="322.5" cy="494.2" r="4.3" fill="none" stroke="#1f9a4b" stroke-width="1.6"/>
<circle cx="319.5" cy="494.3" r="4.3" fill="none" stroke="#1f9a4b" stroke-width="1.6"/>
<circle cx="315.7" cy="500.0" r="4.3" fill="none" stroke="#1f9a4b" stroke-width="1.6"/>
<circle cx="321.4" cy="502.9" r="4.3" fill="none" stroke="#1f9a4b" stroke-width="1.6"/>
<circle cx="313.3" cy="508.1" r="4.3" fill="none" stroke="#1f9a4b" stroke-width="1.6"/>
<circle cx="331.9" cy="491.5" r="4.3" fill="none" stroke="#1f9a4b" stroke-width="1.6"/>
<circle cx="336.2" cy="494.2" r="4.3" fill="none" stroke="#1f9a4b" stroke-width="1.6"/>
<circle cx="335.7" cy="500.0" r="4.3" fill="none" stroke="#1f9a4b" stroke-width="1.6"/>
<circle cx="340.0" cy="502.9" r="4.3" fill="none" stroke="#1f9a4b" stroke-width="1.6"/>
<circle cx="343.8" cy="499.5" r="4.3" fill="none" stroke="#1f9a4b" stroke-width="1.6"/>
<circle cx="380.7" cy="453.8" r="4.3" fill="none" stroke="#1f9a4b" stroke-width="1.6"/>
<circle cx="384.7" cy="467.2" r="4.3" fill="none" stroke="#1f9a4b" stroke-width="1.6"/>
<circle cx="371.6" cy="467.4" r="4.3" fill="none" stroke="#1f9a4b" stroke-width="1.6"/>
<circle cx="396.3" cy="473.3" r="4.3" fill="none" stroke="#1f9a4b" stroke-width="1.6"/>
<circle cx="403.7" cy="453.7" r="4.3" fill="none" stroke="#1f9a4b" stroke-width="1.6"/>
<circle cx="415.0" cy="442.7" r="4.3" fill="none" stroke="#1f9a4b" stroke-width="1.6"/>
<circle cx="222.7" cy="448.8" r="4.3" fill="none" stroke="#1f9a4b" stroke-width="1.6"/>
<circle cx="226.3" cy="448.8" r="4.3" fill="none" stroke="#1f9a4b" stroke-width="1.6"/>
<circle cx="219.0" cy="475.9" r="4.3" fill="none" stroke="#1f9a4b" stroke-width="1.6"/>
<circle cx="226.3" cy="473.2" r="4.3" fill="none" stroke="#1f9a4b" stroke-width="1.6"/>
<circle cx="234.3" cy="470.1" r="4.3" fill="none" stroke="#1f9a4b" stroke-width="1.6"/>
<circle cx="237.9" cy="475.9" r="4.3" fill="none" stroke="#1f9a4b" stroke-width="1.6"/>
<circle cx="241.6" cy="462.2" r="4.3" fill="none" stroke="#1f9a4b" stroke-width="1.6"/>
<circle cx="252.9" cy="464.6" r="4.3" fill="none" stroke="#1f9a4b" stroke-width="1.6"/>
<circle cx="252.9" cy="470.5" r="4.3" fill="none" stroke="#1f9a4b" stroke-width="1.6"/>
<circle cx="260.5" cy="456.7" r="4.3" fill="none" stroke="#1f9a4b" stroke-width="1.6"/>
<circle cx="271.7" cy="454.0" r="4.3" fill="none" stroke="#1f9a4b" stroke-width="1.6"/>
<circle cx="283.3" cy="451.5" r="4.3" fill="none" stroke="#1f9a4b" stroke-width="1.6"/>
<circle cx="268.3" cy="467.3" r="4.3" fill="none" stroke="#1f9a4b" stroke-width="1.6"/>
<circle cx="264.1" cy="473.2" r="4.3" fill="none" stroke="#1f9a4b" stroke-width="1.6"/>
<circle cx="294.6" cy="464.9" r="4.3" fill="none" stroke="#1f9a4b" stroke-width="1.6"/>
<circle cx="290.6" cy="472.9" r="4.3" fill="none" stroke="#1f9a4b" stroke-width="1.6"/>
<circle cx="290.6" cy="478.7" r="4.3" fill="none" stroke="#1f9a4b" stroke-width="1.6"/>
<circle cx="295.9" cy="480.5" r="4.3" fill="none" stroke="#1f9a4b" stroke-width="1.6"/>
<circle cx="211.5" cy="492.1" r="4.3" fill="none" stroke="#1f9a4b" stroke-width="1.6"/>
<circle cx="211.5" cy="505.5" r="4.3" fill="none" stroke="#1f9a4b" stroke-width="1.6"/>
<circle cx="241.6" cy="492.1" r="4.3" fill="none" stroke="#1f9a4b" stroke-width="1.6"/>
<circle cx="248.9" cy="495.1" r="4.3" fill="none" stroke="#1f9a4b" stroke-width="1.6"/>
<circle cx="252.9" cy="489.0" r="4.3" fill="none" stroke="#1f9a4b" stroke-width="1.6"/>
<circle cx="256.6" cy="492.1" r="4.3" fill="none" stroke="#1f9a4b" stroke-width="1.6"/>
<circle cx="264.1" cy="489.6" r="4.3" fill="none" stroke="#1f9a4b" stroke-width="1.6"/>
<circle cx="267.8" cy="485.4" r="4.3" fill="none" stroke="#1f9a4b" stroke-width="1.6"/>
<circle cx="267.8" cy="490.2" r="4.3" fill="none" stroke="#1f9a4b" stroke-width="1.6"/>
<circle cx="275.5" cy="486.6" r="4.3" fill="none" stroke="#1f9a4b" stroke-width="1.6"/>
<circle cx="283.2" cy="488.8" r="4.3" fill="none" stroke="#1f9a4b" stroke-width="1.6"/>
<circle cx="222.7" cy="511.0" r="4.3" fill="none" stroke="#1f9a4b" stroke-width="1.6"/>
<circle cx="230.4" cy="508.2" r="4.3" fill="none" stroke="#1f9a4b" stroke-width="1.6"/>
<circle cx="237.9" cy="511.0" r="4.3" fill="none" stroke="#1f9a4b" stroke-width="1.6"/>
<circle cx="245.2" cy="508.3" r="4.3" fill="none" stroke="#1f9a4b" stroke-width="1.6"/>
<circle cx="249.3" cy="505.1" r="4.3" fill="none" stroke="#1f9a4b" stroke-width="1.6"/>
<circle cx="249.3" cy="511.2" r="4.3" fill="none" stroke="#1f9a4b" stroke-width="1.6"/>
<circle cx="260.2" cy="500.2" r="4.3" fill="none" stroke="#1f9a4b" stroke-width="1.6"/>
<circle cx="260.2" cy="505.9" r="4.3" fill="none" stroke="#1f9a4b" stroke-width="1.6"/>
<circle cx="267.8" cy="501.2" r="4.3" fill="none" stroke="#1f9a4b" stroke-width="1.6"/>
<circle cx="271.5" cy="503.7" r="4.3" fill="none" stroke="#1f9a4b" stroke-width="1.6"/>
<circle cx="275.5" cy="497.0" r="4.3" fill="none" stroke="#1f9a4b" stroke-width="1.6"/>
<circle cx="275.6" cy="508.5" r="4.3" fill="none" stroke="#1f9a4b" stroke-width="1.6"/>
<circle cx="290.4" cy="500.0" r="4.3" fill="none" stroke="#1f9a4b" stroke-width="1.6"/>
<circle cx="295.9" cy="497.6" r="4.3" fill="none" stroke="#1f9a4b" stroke-width="1.6"/>
<circle cx="294.8" cy="485.5" r="4.3" fill="none" stroke="#1f9a4b" stroke-width="1.6"/>
<circle cx="215.1" cy="697.7" r="4.3" fill="none" stroke="#1f9a4b" stroke-width="1.6"/>
<circle cx="245.7" cy="703.4" r="4.3" fill="none" stroke="#1f9a4b" stroke-width="1.6"/>
<circle cx="245.7" cy="716.3" r="4.3" fill="none" stroke="#1f9a4b" stroke-width="1.6"/>
<circle cx="309.4" cy="700.0" r="4.3" fill="none" stroke="#1f9a4b" stroke-width="1.6"/>
<circle cx="219.4" cy="749.1" r="4.3" fill="none" stroke="#1f9a4b" stroke-width="1.6"/>
<circle cx="211.6" cy="803.7" r="4.3" fill="none" stroke="#1f9a4b" stroke-width="1.6"/>
<circle cx="895.5" cy="172.4" r="5.0" fill="#5eb5f9"/>
<circle cx="898.5" cy="172.4" r="5.0" fill="#5eb5f9"/>
<circle cx="818.9" cy="226.6" r="5.0" fill="#5eb5f9"/>
<circle cx="935.8" cy="280.7" r="5.0" fill="#5eb5f9"/>
<circle cx="954.6" cy="353.9" r="5.0" fill="#5eb5f9"/>
<circle cx="728.6" cy="253.8" r="5.0" fill="#5eb5f9"/>
<circle cx="698.5" cy="280.9" r="5.0" fill="#5eb5f9"/>
<circle cx="622.5" cy="308.0" r="5.0" fill="#5eb5f9"/>
<circle cx="645.3" cy="308.0" r="5.0" fill="#5eb5f9"/>
<circle cx="664.2" cy="308.0" r="5.0" fill="#5eb5f9"/>
<circle cx="682.9" cy="308.0" r="5.0" fill="#5eb5f9"/>
<circle cx="687.2" cy="308.0" r="5.0" fill="#5eb5f9"/>
<circle cx="735.8" cy="308.0" r="5.0" fill="#5eb5f9"/>
<circle cx="739.6" cy="334.8" r="5.0" fill="#5eb5f9"/>
<circle cx="638.1" cy="361.8" r="5.0" fill="#5eb5f9"/>
<circle cx="630.5" cy="381.0" r="5.0" fill="#5eb5f9"/>
<circle cx="709.7" cy="400.0" r="5.0" fill="#5eb5f9"/>
<circle cx="679.3" cy="405.2" r="5.0" fill="#5eb5f9"/>
<circle cx="660.5" cy="413.4" r="5.0" fill="#5eb5f9"/>
<circle cx="623.0" cy="413.4" r="5.0" fill="#5eb5f9"/>
<circle cx="638.0" cy="421.4" r="5.0" fill="#5eb5f9"/>
<circle cx="585.1" cy="416.0" r="5.0" fill="#5eb5f9"/>
<circle cx="592.6" cy="475.7" r="5.0" fill="#5eb5f9"/>
<circle cx="479.4" cy="343.1" r="5.0" fill="#5eb5f9"/>
<circle cx="558.6" cy="334.9" r="5.0" fill="#5eb5f9"/>
<circle cx="585.1" cy="351.1" r="5.0" fill="#5eb5f9"/>
<circle cx="573.8" cy="364.8" r="5.0" fill="#5eb5f9"/>
<circle cx="539.8" cy="381.2" r="5.0" fill="#5eb5f9"/>
<circle cx="543.5" cy="386.6" r="5.0" fill="#5eb5f9"/>
<circle cx="426.6" cy="364.6" r="5.0" fill="#5eb5f9"/>
<circle cx="422.9" cy="375.7" r="5.0" fill="#5eb5f9"/>
<circle cx="456.8" cy="394.4" r="5.0" fill="#5eb5f9"/>
<circle cx="472.0" cy="391.4" r="5.0" fill="#5eb5f9"/>
<circle cx="475.6" cy="394.8" r="5.0" fill="#5eb5f9"/>
<circle cx="460.5" cy="405.4" r="5.0" fill="#5eb5f9"/>
<circle cx="483.3" cy="408.1" r="5.0" fill="#5eb5f9"/>
<circle cx="487.2" cy="408.1" r="5.0" fill="#5eb5f9"/>
<circle cx="448.8" cy="418.7" r="5.0" fill="#5eb5f9"/>
<circle cx="445.5" cy="424.0" r="5.0" fill="#5eb5f9"/>
<circle cx="453.0" cy="426.8" r="5.0" fill="#5eb5f9"/>
<circle cx="457.0" cy="432.2" r="5.0" fill="#5eb5f9"/>
<circle cx="486.8" cy="421.1" r="5.0" fill="#5eb5f9"/>
<circle cx="490.7" cy="427.1" r="5.0" fill="#5eb5f9"/>
<circle cx="513.1" cy="429.6" r="5.0" fill="#5eb5f9"/>
<circle cx="539.7" cy="429.6" r="5.0" fill="#5eb5f9"/>
<circle cx="547.1" cy="418.7" r="5.0" fill="#5eb5f9"/>
<circle cx="543.4" cy="445.9" r="5.0" fill="#5eb5f9"/>
<circle cx="464.2" cy="451.3" r="5.0" fill="#5eb5f9"/>
<circle cx="472.0" cy="454.0" r="5.0" fill="#5eb5f9"/>
<circle cx="513.2" cy="454.0" r="5.0" fill="#5eb5f9"/>
<circle cx="524.6" cy="459.5" r="5.0" fill="#5eb5f9"/>
<circle cx="445.3" cy="459.1" r="5.0" fill="#5eb5f9"/>
<circle cx="449.0" cy="467.2" r="5.0" fill="#5eb5f9"/>
<circle cx="449.0" cy="475.8" r="5.0" fill="#5eb5f9"/>
<circle cx="460.4" cy="467.3" r="5.0" fill="#5eb5f9"/>
<circle cx="483.2" cy="459.2" r="5.0" fill="#5eb5f9"/>
<circle cx="483.2" cy="465.1" r="5.0" fill="#5eb5f9"/>
<circle cx="501.8" cy="462.1" r="5.0" fill="#5eb5f9"/>
<circle cx="505.8" cy="470.1" r="5.0" fill="#5eb5f9"/>
<circle cx="509.4" cy="478.0" r="5.0" fill="#5eb5f9"/>
<circle cx="479.3" cy="489.2" r="5.0" fill="#5eb5f9"/>
<circle cx="456.6" cy="494.4" r="5.0" fill="#5eb5f9"/>
<circle cx="373.6" cy="421.6" r="5.0" fill="#5eb5f9"/>
<circle cx="415.1" cy="405.1" r="5.0" fill="#5eb5f9"/>
<circle cx="411.4" cy="413.2" r="5.0" fill="#5eb5f9"/>
<circle cx="396.4" cy="426.8" r="5.0" fill="#5eb5f9"/>
<circle cx="403.8" cy="424.4" r="5.0" fill="#5eb5f9"/>
<circle cx="431.5" cy="430.1" r="5.0" fill="#5eb5f9"/>
<circle cx="435.0" cy="432.2" r="5.0" fill="#5eb5f9"/>
<circle cx="373.6" cy="440.3" r="5.0" fill="#5eb5f9"/>
<circle cx="370.0" cy="448.8" r="5.0" fill="#5eb5f9"/>
<circle cx="385.1" cy="444.8" r="5.0" fill="#5eb5f9"/>
<circle cx="385.1" cy="449.8" r="5.0" fill="#5eb5f9"/>
<circle cx="385.1" cy="454.5" r="5.0" fill="#5eb5f9"/>
<circle cx="358.6" cy="456.6" r="5.0" fill="#5eb5f9"/>
<circle cx="366.2" cy="462.0" r="5.0" fill="#5eb5f9"/>
<circle cx="366.2" cy="468.6" r="5.0" fill="#5eb5f9"/>
<circle cx="367.4" cy="476.5" r="5.0" fill="#5eb5f9"/>
<circle cx="365.8" cy="486.8" r="5.0" fill="#5eb5f9"/>
<circle cx="381.2" cy="475.0" r="5.0" fill="#5eb5f9"/>
<circle cx="389.0" cy="470.3" r="5.0" fill="#5eb5f9"/>
<circle cx="373.3" cy="481.2" r="5.0" fill="#5eb5f9"/>
<circle cx="382.3" cy="487.3" r="5.0" fill="#5eb5f9"/>
<circle cx="411.3" cy="448.2" r="5.0" fill="#5eb5f9"/>
<circle cx="430.2" cy="448.8" r="5.0" fill="#5eb5f9"/>
<circle cx="403.4" cy="467.7" r="5.0" fill="#5eb5f9"/>
<circle cx="412.0" cy="469.5" r="5.0" fill="#5eb5f9"/>
<circle cx="415.6" cy="470.1" r="5.0" fill="#5eb5f9"/>
<circle cx="412.0" cy="473.2" r="5.0" fill="#5eb5f9"/>
<circle cx="403.8" cy="487.8" r="5.0" fill="#5eb5f9"/>
<circle cx="403.8" cy="492.7" r="5.0" fill="#5eb5f9"/>
<circle cx="351.1" cy="494.5" r="5.0" fill="#5eb5f9"/>
<circle cx="373.4" cy="499.8" r="5.0" fill="#5eb5f9"/>
<circle cx="353.6" cy="505.5" r="5.0" fill="#5eb5f9"/>
<circle cx="419.4" cy="509.3" r="5.0" fill="#5eb5f9"/>
<circle cx="362.4" cy="394.4" r="5.0" fill="#5eb5f9"/>
<circle cx="347.2" cy="337.4" r="5.0" fill="#5eb5f9"/>
<circle cx="362.3" cy="500.4" r="4.9" fill="#800080"/>
<circle cx="358.5" cy="505.8" r="4.9" fill="#800080"/>
<circle cx="381.3" cy="497.2" r="4.9" fill="#800080"/>
<circle cx="385.2" cy="505.5" r="4.9" fill="#800080"/>
<circle cx="382.4" cy="513.2" r="4.9" fill="#800080"/>
<circle cx="366.4" cy="513.6" r="4.9" fill="#800080"/>
<circle cx="371.6" cy="514.6" r="4.9" fill="#800080"/>
<circle cx="376.3" cy="520.5" r="4.9" fill="#800080"/>
<circle cx="373.3" cy="526.6" r="4.9" fill="#800080"/>
<circle cx="384.9" cy="524.1" r="4.9" fill="#800080"/>
<circle cx="388.5" cy="529.6" r="4.9" fill="#800080"/>
<circle cx="381.2" cy="535.1" r="4.9" fill="#800080"/>
<circle cx="351.3" cy="538.2" r="4.9" fill="#800080"/>
<circle cx="357.4" cy="538.8" r="4.9" fill="#800080"/>
<circle cx="362.3" cy="535.1" r="4.9" fill="#800080"/>
<circle cx="365.4" cy="538.8" r="4.9" fill="#800080"/>
<circle cx="366.6" cy="541.2" r="4.9" fill="#800080"/>
<circle cx="361.7" cy="545.5" r="4.9" fill="#800080"/>
<circle cx="369.6" cy="546.1" r="4.9" fill="#800080"/>
<circle cx="377.0" cy="549.1" r="4.9" fill="#800080"/>
<circle cx="384.9" cy="549.1" r="4.9" fill="#800080"/>
<circle cx="355.0" cy="557.1" r="4.9" fill="#800080"/>
<circle cx="366.0" cy="557.1" r="4.9" fill="#800080"/>
<circle cx="347.4" cy="573.3" r="4.9" fill="#800080"/>
<circle cx="358.4" cy="570.4" r="4.9" fill="#800080"/>
<circle cx="359.6" cy="574.0" r="4.9" fill="#800080"/>
<circle cx="362.2" cy="578.3" r="4.9" fill="#800080"/>
<circle cx="369.8" cy="581.6" r="4.9" fill="#800080"/>
<circle cx="369.8" cy="606.0" r="4.9" fill="#800080"/>
<circle cx="399.8" cy="611.4" r="4.9" fill="#800080"/>
<circle cx="411.2" cy="510.6" r="4.9" fill="#800080"/>
<circle cx="419.2" cy="513.6" r="4.9" fill="#800080"/>
<circle cx="437.8" cy="513.7" r="4.9" fill="#800080"/>
<circle cx="411.7" cy="526.6" r="4.9" fill="#800080"/>
<circle cx="411.7" cy="530.9" r="4.9" fill="#800080"/>
<circle cx="433.8" cy="529.8" r="4.9" fill="#800080"/>
<circle cx="403.8" cy="538.2" r="4.9" fill="#800080"/>
<circle cx="407.5" cy="562.6" r="4.9" fill="#800080"/>
<circle cx="407.5" cy="578.4" r="4.9" fill="#800080"/>
<circle cx="415.3" cy="594.9" r="4.9" fill="#800080"/>
<circle cx="449.1" cy="551.6" r="4.9" fill="#800080"/>
<circle cx="430.5" cy="486.0" r="4.9" fill="#800080"/>
<circle cx="434.2" cy="483.5" r="4.9" fill="#800080"/>
<circle cx="460.5" cy="527.2" r="4.9" fill="#800080"/>
<circle cx="460.5" cy="540.6" r="4.9" fill="#800080"/>
<circle cx="502.0" cy="502.8" r="4.9" fill="#800080"/>
<circle cx="498.1" cy="524.4" r="4.9" fill="#800080"/>
<circle cx="475.4" cy="546.2" r="4.9" fill="#800080"/>
<circle cx="490.7" cy="600.3" r="4.9" fill="#800080"/>
<circle cx="351.1" cy="630.4" r="4.9" fill="#800080"/>
<circle cx="456.7" cy="643.9" r="4.9" fill="#800080"/>
<circle cx="411.3" cy="665.3" r="4.9" fill="#800080"/>
<path d="M274.4 308.8L341.6 329.1M453.9 311.4L475.2 337.1M624.4 277.6L639.0 300.5M641.9 279.0L660.6 299.5M655.6 243.9L691.8 274.4M685.8 411.9L745.5 459.0M667.6 422.8L718.3 462.6M646.0 430.8L663.2 443.7M600.5 483.1L645.0 518.1M509.0 511.2L545.9 513.4M510.5 531.0L528.8 536.8M485.2 555.4L503.2 561.5M407.1 616.7L455.1 631.3M178.6 715.7L202.3 702.9M252.9 710.0L303.4 732.9M251.4 722.9L288.6 762.9" stroke="#111" stroke-width="1.5" fill="none"/>
<g font-family="Liberation Sans, Arial, sans-serif" font-style="italic" font-size="16.6" fill="#111" stroke="#111" stroke-width="0.3">
<text x="909.6" y="166.8" text-anchor="start">CDKN2A/B</text>
<text x="891.0" y="189.2" text-anchor="end">CDKN2A/B</text>
<text x="824.5" y="243.6" text-anchor="start">CDKAL1</text>
<text x="947.2" y="274.9" text-anchor="start">CDKAL1</text>
<text x="963.0" y="348.5" text-anchor="start">KCNQ1</text>
<text x="258.0" y="247.1" text-anchor="start">BCAR1</text>
<text x="312.0" y="303.6" text-anchor="start">HMGA2</text>
<text x="243.5" y="305.2" text-anchor="start">IRS1</text>
<text x="242.0" y="348.6" text-anchor="start">TM6SF2</text>
<text x="386.0" y="341.9" text-anchor="start">FTO</text>
<text x="437.1" y="303.8" text-anchor="start">MTNR1B</text>
<text x="513.7" y="329.1" text-anchor="start">TLE4</text>
<text x="561.9" y="301.9" text-anchor="start">PPARG</text>
<text x="588.6" y="274.8" text-anchor="start">SLC30A8</text>
<text x="620.0" y="239.5" text-anchor="start">FTO</text>
<text x="744.8" y="302.0" text-anchor="start">HHEX/IDE</text>
<text x="745.1" y="351.9" text-anchor="start">CENTD2</text>
<text x="719.3" y="417.1" text-anchor="start">GPSM1</text>
<text x="751.4" y="465.3" text-anchor="start">HNF1B</text>
<text x="672.2" y="477.3" text-anchor="start">CAMK1D</text>
<text x="638.2" y="458.6" text-anchor="start">PPARG</text>
<text x="639.7" y="537.6" text-anchor="start">INS/IGF2</text>
<text x="550.4" y="518.8" text-anchor="start">GPC5</text>
<text x="534.9" y="544.7" text-anchor="start">INAFM2</text>
<text x="504.2" y="571.4" text-anchor="start">PITPNC1</text>
<text x="499.4" y="595.8" text-anchor="start">GLP1R</text>
<text x="458.8" y="634.3" text-anchor="start">LPP</text>
<text x="284.2" y="627.0" text-anchor="start">PKD1L3</text>
<text x="370.9" y="681.9" text-anchor="start">SIX3</text>
<text x="108.6" y="725.7" text-anchor="start">PCDH17</text>
<text x="318.0" y="716.6" text-anchor="start">PABPC4L</text>
<text x="307.7" y="746.6" text-anchor="start">FOCAD</text>
<text x="279.4" y="778.0" text-anchor="start">SLC9B1</text>
<text x="160.0" y="765.7" text-anchor="start">XKR6</text>
<text x="152.5" y="822.8" text-anchor="start">RMST</text>
</g>
<rect x="89.0" y="23.3" width="954.2" height="894.0" fill="none" stroke="#8a8a8a" stroke-width="1.2"/>
<path d="M207.7 917.3V922.8M396.4 917.3V922.8M585.1 917.3V922.8M773.8 917.3V922.8M962.5 917.3V922.8M89.0 876.9H83.5M89.0 606.0H83.5M89.0 335.1H83.5M89.0 64.2H83.5" stroke="#444" stroke-width="1.5"/>
<g font-family="Liberation Sans, Arial, sans-serif" font-size="19.5" fill="#333">
<text x="212.4" y="941" text-anchor="middle">0.00</text>
<text x="401.1" y="941" text-anchor="middle">0.05</text>
<text x="589.8" y="941" text-anchor="middle">0.10</text>
<text x="778.5" y="941" text-anchor="middle">0.15</text>
<text x="967.2" y="941" text-anchor="middle">0.20</text>
<text x="83" y="883.4" text-anchor="end">−0.1</text>
<text x="83" y="612.5" text-anchor="end">0.0</text>
<text x="83" y="341.6" text-anchor="end">0.1</text>
<text x="83" y="70.7" text-anchor="end">0.2</text>
</g>
<text transform="translate(571 973.3) scale(1 1.065)" x="0" y="0" text-anchor="middle" font-family="Liberation Sans, Arial, sans-serif" font-weight="bold" font-size="29.5" fill="#000">Per–allele effect size in EAS (SE)</text>
<text transform="translate(29 469) rotate(-90) scale(1 1.025)" x="0" y="0" text-anchor="middle" font-family="Liberation Sans, Arial, sans-serif" font-weight="bold" font-size="29.5" fill="#000">Per–allele effect size in EUR (SE)</text>
<rect x="897.3" y="821" width="140.2" height="90.2" fill="#fff" stroke="#222" stroke-width="1.2"/>
<g font-family="Liberation Sans, Arial, sans-serif" fill="#000" stroke="#000" stroke-width="0.15">
<text x="900" y="838.5" font-size="17.0">GW significant in:</text>
<text x="924.8" y="861.8" font-size="13.9">EUR only</text>
<text x="924.8" y="883.0" font-size="13.9">EUR and EAS</text>
<text x="924.8" y="902.6" font-size="13.9">EAS only</text>
</g>
<circle cx="915.6" cy="857" r="3.3" fill="none" stroke="#1f9a4b" stroke-width="1.4"/>
<circle cx="915.6" cy="877.2" r="3.9" fill="#5eb5f9"/>
<circle cx="915.6" cy="897.9" r="3.9" fill="#800080"/>
</svg>
</body></html>
